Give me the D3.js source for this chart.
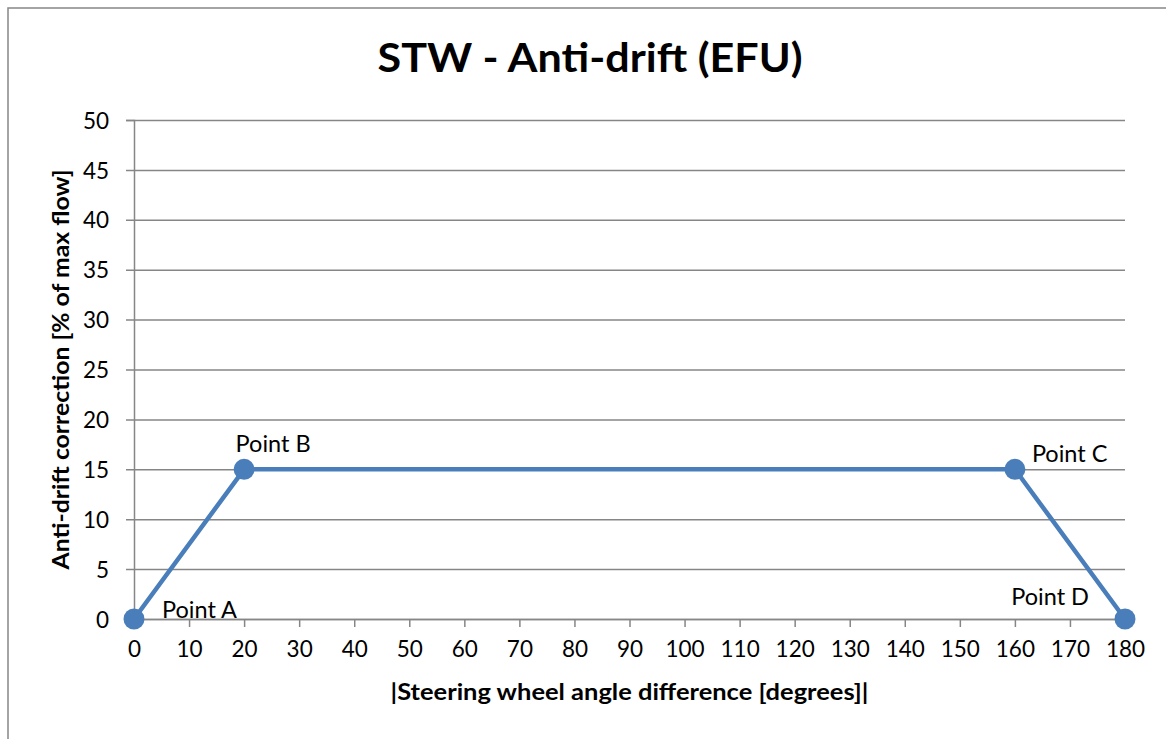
<!DOCTYPE html>
<html>
<head>
<meta charset="utf-8">
<script src="https://cdn.jsdelivr.net/npm/d3@7"></script>
<style>
  html, body { margin: 0; padding: 0; background: #fff; }
  svg { display: block; font-family: Lato, "Open Sans", sans-serif; }
</style>
</head>
<body>
<svg id="chart" width="1166" height="739"></svg>
<script>
// Characteristic curve points
const angles = [0, 20, 160, 180];
const corrections = [0, 15, 15, 0];
const pointNames = ["Point A", "Point B", "Point C", "Point D"];
const xTicks = d3.range(0, 181, 10);
const yTicks = d3.range(0, 51, 5);

const title = "STW - Anti-drift (EFU)";
const xTitle = "|Steering wheel angle difference [degrees]|";
const yTitle = "Anti-drift correction [% of max flow]";

const svg = d3.select("#chart");
const plot = { left: 134, right: 1125, top: 120, bottom: 619 };

const x = d3.scaleLinear().domain([0, 180]).range([plot.left, plot.right]);
const y = d3.scaleLinear().domain([0, 50]).range([plot.bottom, plot.top]);

const gridColor = "#868686";

// outer chart frame
svg.append("rect")
  .attr("x", 8).attr("y", 8).attr("width", 1170).attr("height", 750)
  .attr("fill", "#fff").attr("stroke", gridColor).attr("stroke-width", 1.5);

// title
svg.append("text")
  .attr("x", 590).attr("y", 72)
  .attr("text-anchor", "middle")
  .attr("font-size", 40).attr("font-weight", "bold")
  .attr("textLength", 425).attr("lengthAdjust", "spacingAndGlyphs")
  .text(title);

// horizontal gridlines + y axis
const yAxis = d3.axisLeft(y).tickValues(yTicks).tickSize(8).tickPadding(17);
const gy = svg.append("g").attr("transform", `translate(${plot.left},0)`).call(yAxis);
gy.select(".domain").attr("stroke", gridColor).attr("stroke-width", 1.5);
gy.selectAll(".tick line")
  .attr("x1", -8).attr("x2", plot.right - plot.left)
  .attr("stroke", gridColor).attr("stroke-width", 1.5);
gy.selectAll(".tick text").attr("font-size", 22.5).attr("fill", "#000")
  .attr("font-family", "Lato, sans-serif").attr("dy", "0.36em");

// x axis
const xAxis = d3.axisBottom(x).tickValues(xTicks).tickSize(8).tickPadding(14);
const gx = svg.append("g").attr("transform", `translate(0,${plot.bottom})`).call(xAxis);
gx.select(".domain").attr("stroke", gridColor).attr("stroke-width", 1.5);
gx.selectAll(".tick line").attr("stroke", gridColor).attr("stroke-width", 1.5);
gx.selectAll(".tick text").attr("font-size", 22.5).attr("fill", "#000")
  .attr("font-family", "Lato, sans-serif");

// axis titles
svg.append("text")
  .attr("x", (plot.left + plot.right) / 2).attr("y", 700)
  .attr("text-anchor", "middle")
  .attr("font-size", 22).attr("font-weight", "bold")
  .attr("textLength", 478).attr("lengthAdjust", "spacingAndGlyphs")
  .text(xTitle);

svg.append("text")
  .attr("transform", `translate(69,${(plot.top + plot.bottom) / 2}) rotate(-90)`)
  .attr("text-anchor", "middle")
  .attr("font-size", 22).attr("font-weight", "bold")
  .attr("textLength", 400).attr("lengthAdjust", "spacingAndGlyphs")
  .text(yTitle);

// series line and markers
const data = angles.map((a, i) => ({ a, c: corrections[i], name: pointNames[i] }));
const blue = "#4a7ebb";

svg.append("path")
  .datum(data)
  .attr("fill", "none").attr("stroke", blue).attr("stroke-width", 4.5)
  .attr("stroke-linejoin", "round")
  .attr("d", d3.line().x(d => x(d.a)).y(d => y(d.c)));

svg.selectAll("circle.pt").data(data).join("circle")
  .attr("class", "pt")
  .attr("cx", d => x(d.a)).attr("cy", d => y(d.c)).attr("r", 10.5)
  .attr("fill", blue);

// point labels
const labelOffsets = [
  { dx: 28, dy: -1, anchor: "start" },
  { dx: 29, dy: -17, anchor: "middle" },
  { dx: 17, dy: -7, anchor: "start" },
  { dx: -36, dy: -14, anchor: "end" }
];
svg.selectAll("text.pt-label").data(data).join("text")
  .attr("class", "pt-label")
  .attr("x", (d, i) => x(d.a) + labelOffsets[i].dx)
  .attr("y", (d, i) => y(d.c) + labelOffsets[i].dy)
  .attr("text-anchor", (d, i) => labelOffsets[i].anchor)
  .attr("font-size", 23.5).attr("fill", "#000")
  .text(d => d.name);
</script>
</body>
</html>
